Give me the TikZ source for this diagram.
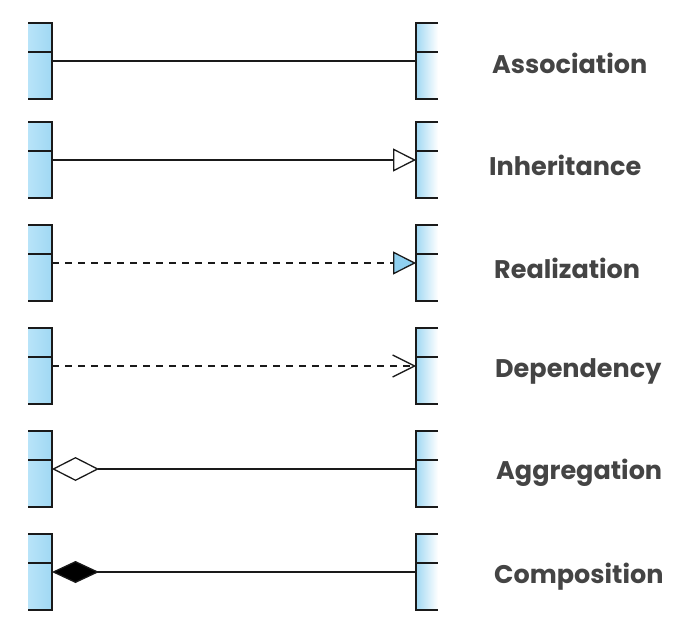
\documentclass[tikz,border=0pt]{standalone}
\usepackage{fontspec}
\setmainfont{Poppins}
\usetikzlibrary{arrows.meta}
\definecolor{boxblue}{HTML}{A0D8F3}
\definecolor{boxlight}{HTML}{B8E4F9}
\definecolor{tipblue}{HTML}{8FD0F0}
\definecolor{edge}{HTML}{1A1A1A}
\definecolor{label}{HTML}{444444}
\begin{document}
\begin{tikzpicture}[x=1pt,y=-1pt,
  lbox/.style={minimum width=24pt,minimum height=76pt,inner sep=0pt,outer sep=0pt,left color=boxlight,right color=boxblue,draw=none},
  rbox/.style={minimum width=22pt,minimum height=76pt,inner sep=0pt,outer sep=0pt,left color=boxblue,right color=white,draw=none},
  border/.style={draw=edge,line width=1.5pt},
  conn/.style={draw=edge,line width=1.3pt},
  dashconn/.style={conn,dash pattern=on 7pt off 6pt},
  lbl/.style={anchor=west,text=label,font=\fontsize{25.5}{30}\selectfont\bfseries,inner sep=0pt}]
\useasboundingbox (0,0) rectangle (673,623);
\foreach \i/\c in {1/61,2/160,3/263,4/366,5/469,6/572}{
  \node[lbox] (L\i) at (40,\c) {};
  \node[rbox] (R\i) at (427,\c) {};
  \draw[border] (L\i.north west) -- (L\i.north east) -- (L\i.south east) -- (L\i.south west);
  \draw[border] ([yshift=9pt]L\i.west) -- ([yshift=9pt]L\i.east);
  \draw[border] (R\i.north east) -- (R\i.north west) -- (R\i.south west) -- (R\i.south east);
  \draw[border] ([yshift=9pt]R\i.west) -- ([yshift=9pt]R\i.east);
}
\draw[conn] (L1.east) -- (R1.west);
\draw[conn,-{Triangle[open,length=23pt,width=23pt]}] (L2.east) -- (R2.west);
\draw[dashconn,-{Triangle[fill=tipblue,length=23pt,width=23pt]}] (L3.east) -- (R3.west);
\draw[dashconn,-{Straight Barb[length=22pt,width=22pt]}] (L4.east) -- (R4.west);
\draw[conn,{Diamond[open,length=47pt,width=24pt]}-] (L5.east) -- (R5.west);
\draw[conn,{Diamond[fill=black,length=47pt,width=22pt]}-] (L6.east) -- (R6.west);
\node[lbl] (t1) at (492,63) {Association};
\node[lbl] (t2) at (489,165) {Inheritance};
\node[lbl] (t3) at (494,268) {Realization};
\node[lbl] (t4) at (495,371) {Dependency};
\node[lbl] (t5) at (496,473) {Aggregation};
\node[lbl] (t6) at (494,577) {Composition};
\end{tikzpicture}
\end{document}
